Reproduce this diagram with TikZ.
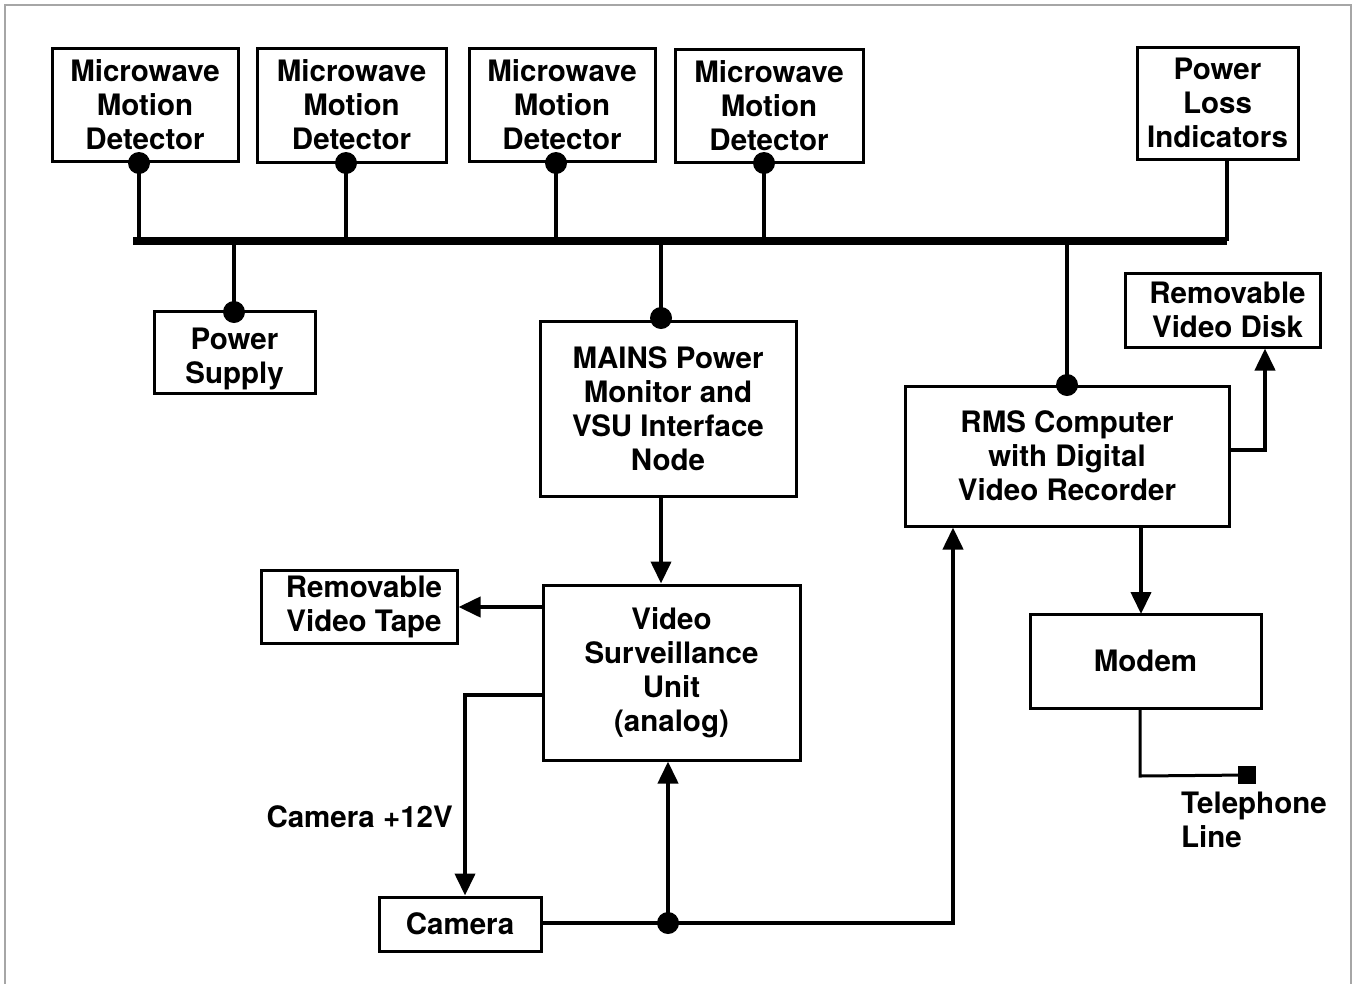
\documentclass[tikz,border=0pt]{standalone}
\usepackage{fontspec}
\setmainfont{TeX Gyre Heros}
\usetikzlibrary{arrows.meta}
\newcommand{\lblfont}{\fontsize{29.5}{34}\selectfont\bfseries}
\tikzset{
  box/.style={draw, line width=3pt, align=center, inner sep=0pt, font=\lblfont},
  conn/.style={line width=4pt},
  busline/.style={line width=7.5pt},
  arr/.style={conn, -{Triangle[length=22pt,width=20pt]}},
  jdot/.style={circle, fill, inner sep=0pt, minimum size=22pt},
  plain/.style={align=left, inner sep=0pt, font=\lblfont},
}
\begin{document}
\begin{tikzpicture}[x=1pt, y=-1pt]
\useasboundingbox (0,0) rectangle (1356,983);
% outer frame
\draw[gray!70, line width=1.2pt] (5,990) -- (5,5) -- (1351,5) -- (1351,990);

% detectors and indicators
\node[box, minimum width=186, minimum height=113] (md1) at (145,104.5) {Microwave\\Motion\\Detector};
\node[box, minimum width=189, minimum height=114] (md2) at (351.5,105) {Microwave\\Motion\\Detector};
\node[box, minimum width=186, minimum height=113] (md3) at (562,104.5) {Microwave\\Motion\\Detector};
\node[box, minimum width=188, minimum height=113] (md4) at (769,105.5) {Microwave\\Motion\\Detector};
\node[box, minimum width=161, minimum height=112] (pli) at (1217.5,103) {Power\\Loss\\Indicators};

% lower blocks
\node[box, minimum width=161, minimum height=82] (ps) at (234.5,352) {\rule{0pt}{36pt}Power\\Supply};
\node[box, minimum width=256, minimum height=175] (mains) at (668,408.5) {MAINS Power\\Monitor and\\VSU Interface\\Node};
\node[box, minimum width=324, minimum height=140] (rms) at (1067,456) {RMS Computer\\with Digital\\Video Recorder};
\node[box, minimum width=195, minimum height=74] (disk) at (1222.5,310) {\hspace*{10pt}Removable\\\hspace*{10pt}Video Disk};
\node[box, minimum width=231, minimum height=94] (modem) at (1145.5,661) {Modem};
\node[box, minimum width=257, minimum height=175] (vsu) at (671.5,672.5) {Video\\Surveillance\\Unit\\(analog)};
\node[box, minimum width=196, minimum height=73] (tape) at (359,606.5) {\hspace*{10pt}Removable\\\hspace*{10pt}Video Tape};
\node[box, minimum width=162, minimum height=54] (cam) at (460,924) {Camera};

% bus
\coordinate (busL) at (133,241);
\coordinate (busR) at (1227,241);
\draw[busline] (busL) -- (busR);

% junction dots
\node[jdot] (d1) at (139,163) {};
\node[jdot] (d2) at (346,163) {};
\node[jdot] (d3) at (556,163) {};
\node[jdot] (d4) at (764,163) {};
\node[jdot] (dps) at (234,312) {};
\node[jdot] (dmains) at (661,318) {};
\node[jdot] (drms) at (1067,385) {};
\node[jdot] (dcam) at (668,923) {};

% drops onto the bus
\draw[conn] (d1.center) -- (d1.center |- busL);
\draw[conn] (d2.center) -- (d2.center |- busL);
\draw[conn] (d3.center) -- (d3.center |- busL);
\draw[conn] (d4.center) -- (d4.center |- busL);
\draw[conn] (dps.center) -- (dps.center |- busL);
\draw[conn] (dmains.center) -- (dmains.center |- busL);
\draw[conn] (drms.center) -- (drms.center |- busL);
\draw[conn] (busR) -- (busR |- pli.south);

% signal paths
\draw[arr] (mains.south -| dmains) -- (vsu.north -| dmains);
\coordinate (tapeout) at (543,607);
\draw[arr] (tapeout) -- (tapeout -| tape.east);
\coordinate (pwrout) at (543,695);
\coordinate (pwrcorner) at (465,695);
\draw[arr] (pwrout) -- (pwrcorner) -- (pwrcorner |- cam.north);
\node[plain, anchor=east] (lbl12) at (453,817) {Camera +12V};
\draw[conn] (cam.east |- dcam) -- (dcam.center);
\draw[arr] (dcam.center) -- (vsu.south -| dcam);
\coordinate (rmsin) at (953,923);
\draw[arr] (dcam.center) -- (rmsin) -- (rmsin |- rms.south);
\coordinate (diskout) at (1229,450);
\coordinate (diskcorner) at (1265,450);
\draw[arr] (diskout) -- (diskcorner) -- (diskcorner |- disk.south);
\draw[arr] (1141,526) -- (1141,614);

% telephone line
\coordinate (telcorner) at (1140,776);
\node[fill, minimum size=18pt, inner sep=0pt] (tel) at (1247,775) {};
\draw[line width=3pt] (modem.south -| telcorner) -- (telcorner) -- (tel.center);
\node[plain, anchor=north west] (tellbl) at (1181,792) {Telephone\\Line};
\end{tikzpicture}
\end{document}
